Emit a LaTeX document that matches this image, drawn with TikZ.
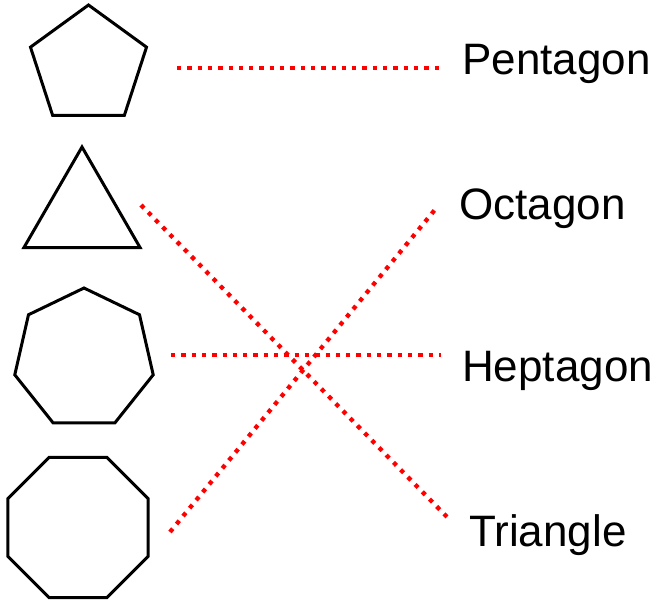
\documentclass[tikz,border=0pt]{standalone}
\usepackage{fontspec}
\setmainfont{Liberation Sans}
\usetikzlibrary{shapes.geometric}
\begin{document}
\begin{tikzpicture}[x=1pt,y=-1pt,
  shapebox/.style={regular polygon, draw=black, line width=3pt, inner sep=0pt, line join=miter},
  lbl/.style={anchor=base west, inner sep=0pt, font=\fontsize{44}{50}\selectfont},
  match/.style={draw=red, line width=4.3pt, dash pattern=on 4.3pt off 6pt}]
\useasboundingbox (0,0) rectangle (660,606);
\node[shapebox, regular polygon sides=5, minimum size=122pt] (pent) at (88.5,66) {};
\node[shapebox, regular polygon sides=3, minimum size=134pt] (tri) at (82,214) {};
\node[shapebox, regular polygon sides=7, minimum size=142pt] (hept) at (84,359) {};
\node[shapebox, regular polygon sides=8, minimum size=151.6pt] (oct) at (78,527.5) {};
\node[lbl] (lpent) at (462,74) {Pentagon};
\node[lbl] (loct) at (459,219) {Octagon};
\node[lbl] (lhept) at (462,381) {Heptagon};
\node[lbl] (ltri) at (469,546) {Triangle};
\coordinate (a1) at (177,68);  \coordinate (b1) at (441,68);
\coordinate (a2) at (141,205); \coordinate (b2) at (449,519);
\coordinate (a3) at (171,355); \coordinate (b3) at (441,355);
\coordinate (a4) at (170,532); \coordinate (b4) at (438,206);
\draw[match] (a1) -- (b1);
\draw[match] (a2) -- (b2);
\draw[match] (a3) -- (b3);
\draw[match] (a4) -- (b4);
\end{tikzpicture}
\end{document}
